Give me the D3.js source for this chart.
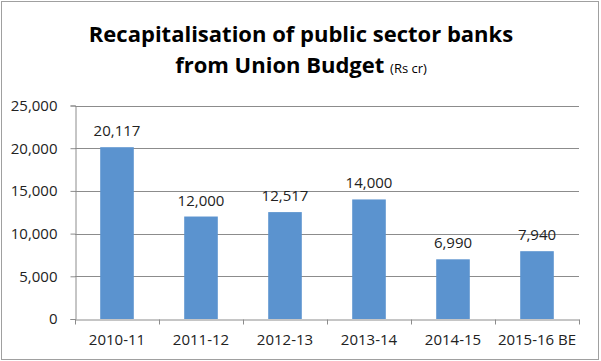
<!DOCTYPE html>
<html><head><meta charset="utf-8">
<script src="https://cdn.jsdelivr.net/npm/d3@7"></script>
<style>body{margin:0;background:#fff}svg{display:block}</style>
</head><body>
<script>
const categories = ["2010-11","2011-12","2012-13","2013-14","2014-15","2015-16 BE"];
const values = [20117,12000,12517,14000,6990,7940];
const yTicks = [0,5000,10000,15000,20000,25000];

const W=601,H=361;
const svg=d3.select("body").append("svg").attr("width",W).attr("height",H);
svg.append("rect").attr("x",1.5).attr("y",1.5).attr("width",W-4).attr("height",H-3)
  .attr("fill","#fff").attr("stroke","#a0a0a0").attr("stroke-width",1);

const m={left:75,right:579,top:105.5,bottom:319};
const x=d3.scaleBand().domain(categories).range([m.left,m.right]).paddingInner(0.6).paddingOuter(0.3);
const y=d3.scaleLinear().domain([0,25000]).range([m.bottom,m.top]);
const fmt=d3.format(",");
const font="'Open Sans', sans-serif";

// gridlines
svg.append("g").selectAll("line").data(yTicks.filter(d=>d>0)).join("line")
  .attr("x1",m.left).attr("x2",m.right).attr("y1",d=>Math.round(y(d))+0.5).attr("y2",d=>Math.round(y(d))+0.5)
  .attr("stroke","#8c8c8c");

// y axis
const ya=svg.append("g").attr("transform",`translate(${m.left+0.5},0)`)
  .call(d3.axisLeft(y).tickValues(yTicks).tickFormat(fmt).tickSize(5).tickPadding(13));
ya.select(".domain").attr("stroke","#8c8c8c");
ya.selectAll(".tick line").attr("stroke","#8c8c8c");
ya.selectAll(".tick text").attr("font-family",font).attr("font-size",15).attr("fill","#222");

// bars
svg.append("g").selectAll("rect").data(values).join("rect")
  .attr("x",(d,i)=>x(categories[i])).attr("width",x.bandwidth())
  .attr("y",d=>y(d)).attr("height",d=>y(0)-y(d)).attr("fill","#5b93cf");

// x axis
const xa=svg.append("g").attr("transform",`translate(0,${m.bottom+0.5})`)
  .call(d3.axisBottom(x).tickSize(0).tickPadding(15));
xa.select(".domain").attr("stroke","#8c8c8c");
xa.selectAll(".tick text").attr("font-family",font).attr("font-size",15).attr("fill","#222");
const bounds=d3.range(categories.length+1).map(i=>m.left+i*(m.right-m.left)/categories.length);
xa.append("g").selectAll("line").data(bounds).join("line")
  .attr("x1",d=>Math.round(d)+0.5).attr("x2",d=>Math.round(d)+0.5).attr("y1",0).attr("y2",5).attr("stroke","#8c8c8c");

// data labels
svg.append("g").selectAll("text").data(values).join("text")
  .attr("x",(d,i)=>x(categories[i])+x.bandwidth()/2).attr("y",d=>y(d)-11)
  .attr("text-anchor","middle").attr("font-family",font).attr("font-size",15).attr("fill","#222")
  .text(d=>fmt(d));

// title
svg.append("text").attr("x",301).attr("y",42).attr("text-anchor","middle")
  .attr("font-family",font).attr("font-weight","bold").attr("font-size",22).attr("fill","#000")
  .text("Recapitalisation of public sector banks");
const t2=svg.append("text").attr("x",301).attr("y",73).attr("text-anchor","middle")
  .attr("font-family",font).attr("fill","#000");
t2.append("tspan").attr("font-weight","bold").attr("font-size",22).text("from Union Budget ");
t2.append("tspan").attr("font-size",13).text("(Rs cr)");
</script>
</body></html>
